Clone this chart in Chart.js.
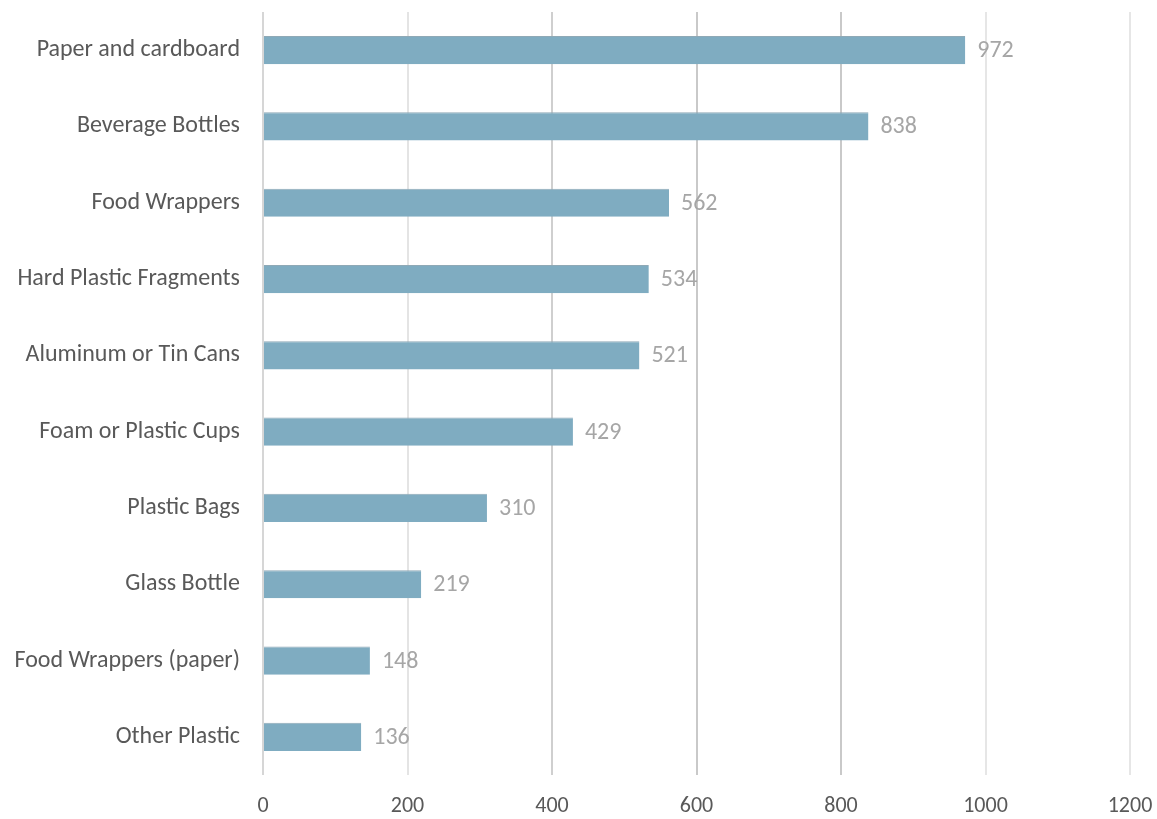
<!DOCTYPE html>
<html>
<head>
<meta charset="utf-8">
<script src="https://cdn.jsdelivr.net/npm/chart.js@4/dist/chart.umd.min.js"></script>
<style>
  html, body { margin: 0; padding: 0; background: #fff; }
  #wrap { width: 1157px; height: 819px; }
</style>
</head>
<body>
<div id="wrap"><canvas id="debrisChart"></canvas></div>
<script>
const categories = [
  'Paper and cardboard',
  'Beverage Bottles',
  'Food Wrappers',
  'Hard Plastic Fragments',
  'Aluminum or Tin Cans',
  'Foam or Plastic Cups',
  'Plastic Bags',
  'Glass Bottle',
  'Food Wrappers (paper)',
  'Other Plastic'
];
const itemCounts = [972, 838, 562, 534, 521, 429, 310, 219, 148, 136];
const tickValues = [0, 200, 400, 600, 800, 1000, 1200];
const gridColors = ['#d6d6d6', '#e4e4e4', '#cfcfcf', '#c9c9c9', '#c9c9c9', '#e6e6e6', '#e6e6e6'];

const fontFamily = 'Carlito, Lato, "Open Sans", sans-serif';

// writes the count just past the end of each bar
const valueLabels = {
  id: 'valueLabels',
  afterDatasetsDraw(chart) {
    const ctx = chart.ctx;
    const meta = chart.getDatasetMeta(0);
    ctx.save();
    ctx.font = '24px ' + fontFamily;
    ctx.fillStyle = '#a6a6a6';
    ctx.textAlign = 'left';
    ctx.textBaseline = 'middle';
    meta.data.forEach((bar, i) => {
      ctx.fillText(String(itemCounts[i]), bar.x + 12, bar.y + 1);
    });
    ctx.restore();
  }
};

const ctx = document.getElementById('debrisChart').getContext('2d');
new Chart(ctx, {
  type: 'bar',
  data: {
    labels: categories,
    datasets: [{
      data: itemCounts,
      backgroundColor: '#7facc1',
      borderColor: '#8fa9b6',
      borderWidth: { top: 1, right: 0, bottom: 0, left: 0 },
      borderSkipped: false,
      categoryPercentage: 1,
      barPercentage: 0.37
    }]
  },
  options: {
    indexAxis: 'y',
    responsive: true,
    maintainAspectRatio: false,
    animation: false,
    layout: { padding: { top: 12, right: 27, bottom: 0, left: 0 } },
    plugins: {
      legend: { display: false },
      tooltip: { enabled: false }
    },
    scales: {
      x: {
        min: 0,
        max: 1200,
        afterBuildTicks: scale => { scale.ticks = tickValues.map(v => ({ value: v })); },
        afterFit: scale => {
          scale.height = 44;
          scale.paddingLeft = 0;
          scale.paddingRight = 0;
        },
        border: { display: false },
        grid: {
          drawTicks: false,
          lineWidth: 2,
          color: c => gridColors[c.index] || '#e4e4e4'
        },
        ticks: {
          padding: 18,
          color: '#595959',
          font: { family: fontFamily, size: 22 },
          maxRotation: 0,
          callback: v => String(v)
        }
      },
      y: {
        afterFit: scale => {
          scale.width = 263;
          scale.paddingTop = 0;
          scale.paddingBottom = 0;
        },
        border: { display: false },
        grid: { display: false, drawTicks: false },
        ticks: {
          padding: 23,
          color: '#595959',
          font: { family: fontFamily, size: 24 }
        }
      }
    }
  },
  plugins: [valueLabels]
});
</script>
</body>
</html>
